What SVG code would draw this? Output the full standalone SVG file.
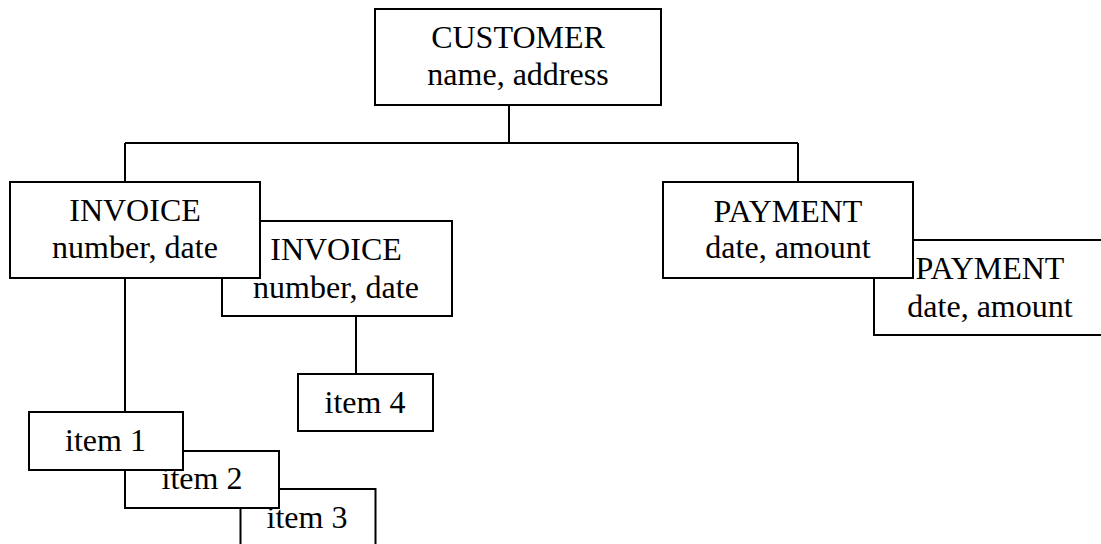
<svg xmlns="http://www.w3.org/2000/svg" width="1101" height="544" viewBox="0 0 1101 544">
  <style>
    .box { fill: #ffffff; stroke: #000000; stroke-width: 2; }
    .wire { fill: none; stroke: #000000; stroke-width: 2; }
    .lbl { font-family: "Liberation Serif", "Times New Roman", serif; font-size: 32px; fill: #000000; text-anchor: middle; }
  </style>
  <rect width="1101" height="544" fill="#ffffff"/>

  <!-- tree connectors -->
  <g id="connectors">
    <path class="wire" d="M509,105 V143"/>
    <path class="wire" d="M125,143 H798"/>
    <path class="wire" d="M125,143 V182"/>
    <path class="wire" d="M798,143 V182"/>
    <path class="wire" d="M125,278 V412"/>
    <path class="wire" d="M356,316 V374"/>
  </g>

  <g id="customer">
    <rect class="box" x="375" y="9" width="286" height="96"/>
    <text class="lbl" x="518" y="48">CUSTOMER</text>
    <text class="lbl" x="518" y="85">name, address</text>
  </g>

  <!-- stacked invoices: the back one first -->
  <g id="invoice-2">
    <rect class="box" x="222" y="221" width="230" height="95"/>
    <text class="lbl" x="336" y="260">INVOICE</text>
    <text class="lbl" x="336" y="298">number, date</text>
  </g>
  <g id="invoice-1">
    <rect class="box" x="10" y="182" width="250" height="96"/>
    <text class="lbl" x="135" y="221">INVOICE</text>
    <text class="lbl" x="135" y="258">number, date</text>
  </g>

  <!-- stacked payments -->
  <g id="payment-2">
    <rect class="box" x="874" y="240" width="240" height="95"/>
    <text class="lbl" x="990" y="279">PAYMENT</text>
    <text class="lbl" x="990" y="317">date, amount</text>
  </g>
  <g id="payment-1">
    <rect class="box" x="663" y="182" width="250" height="96"/>
    <text class="lbl" x="788" y="222">PAYMENT</text>
    <text class="lbl" x="788" y="258">date, amount</text>
  </g>

  <g id="item-4">
    <rect class="box" x="298" y="374" width="135" height="57"/>
    <text class="lbl" x="365" y="413">item 4</text>
  </g>

  <!-- stacked items: item 3 at the back, item 1 in front -->
  <g id="item-3">
    <rect class="box" x="240.5" y="489" width="135" height="70"/>
    <text class="lbl" x="307" y="528">item 3</text>
  </g>
  <g id="item-2">
    <rect class="box" x="125" y="451" width="154" height="57"/>
    <text class="lbl" x="202" y="489">item 2</text>
  </g>
  <g id="item-1">
    <rect class="box" x="29" y="412" width="154" height="58"/>
    <text class="lbl" x="105.5" y="451">item 1</text>
  </g>
</svg>
